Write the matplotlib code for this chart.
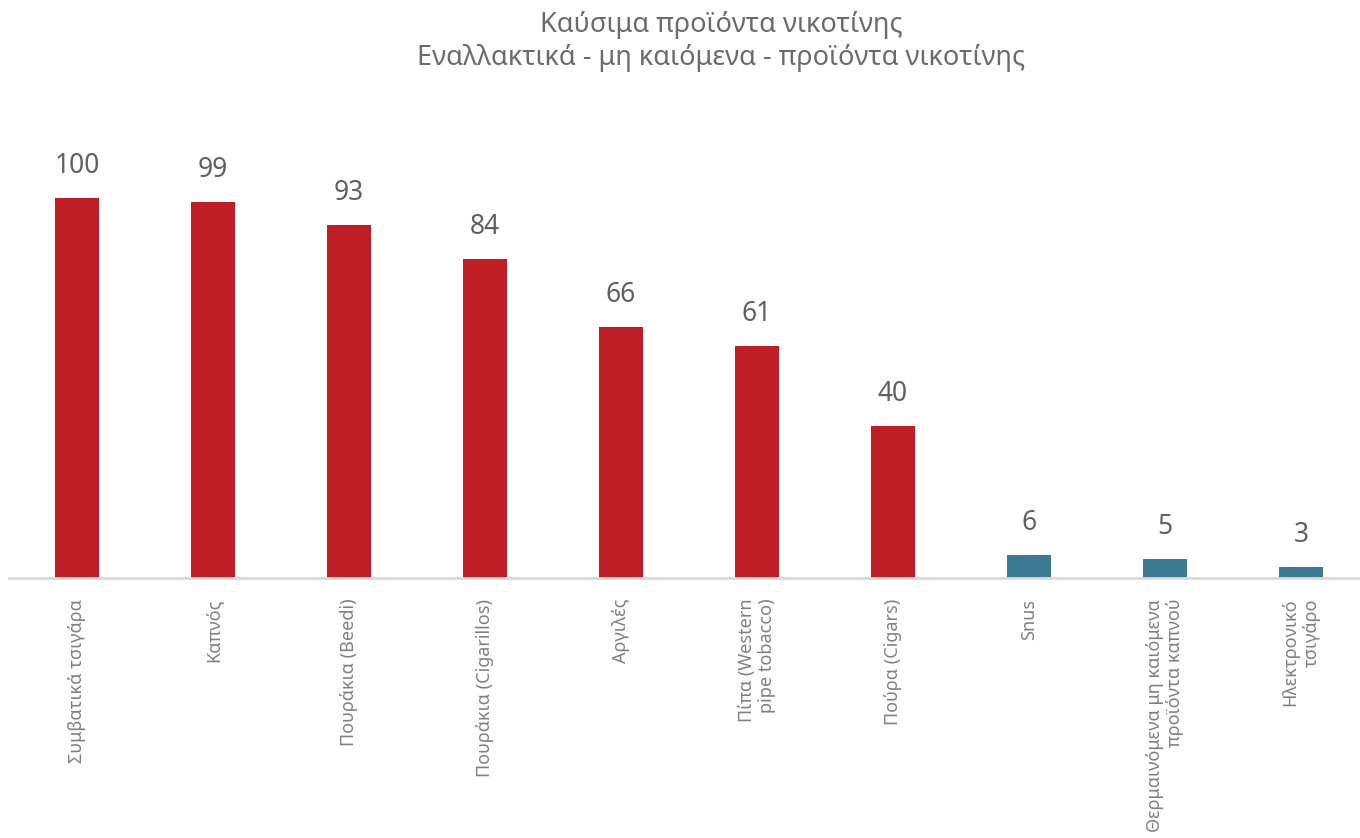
import matplotlib.pyplot as plt

plt.rcParams['font.family'] = ['Noto Sans', 'DejaVu Sans']

categories = ["Συμβατικά τσιγάρα", "Καπνός", "Πουράκια (Beedi)", "Πουράκια (Cigarillos)",
              "Αργιλές", "Πίπα (Western\npipe tobacco)", "Πούρα (Cigars)", "Snus",
              "Θερμαινόμενα μη καιόμενα\nπροϊόντα καπνού", "Ηλεκτρονικό\nτσιγάρο"]
values = [100, 99, 93, 84, 66, 61, 40, 6, 5, 3]
groups = ["burn"] * 7 + ["alt"] * 3

colors = {"burn": "#BE1E24", "alt": "#3C7A93"}

fig = plt.figure(figsize=(13.6, 8.38), dpi=100)
ax = fig.add_axes([9 / 1360, 1 - 578 / 838, 1.0, (578 - 160) / 838])

x = range(len(values))
bars = ax.bar(x, values, width=0.32, color=[colors[g] for g in groups], zorder=2)

for b, v in zip(bars, values):
    ax.annotate(str(v), (b.get_x() + b.get_width() / 2, v), xytext=(0, 13),
                textcoords="offset points", ha="center", va="bottom",
                fontsize=19, color="#606060", fontweight="light")

ax.set_xlim(-0.5, 9.5)
ax.set_ylim(0, 110)
ax.set_xticks(list(x))
ax.set_xticklabels(categories, rotation=90, fontsize=13, color="#808080",
                   fontweight="light", multialignment="right")
ax.tick_params(axis="x", length=0, pad=15)
ax.set_yticks([])
for s in ["top", "right", "left"]:
    ax.spines[s].set_visible(False)
ax.spines["bottom"].set_color("#d9d9d9")
ax.spines["bottom"].set_linewidth(2)

fig.text(721 / 1360, 1 - 25 / 838, "Καύσιμα προϊόντα νικοτίνης", ha="center", va="center",
         fontsize=19.5, color="#6b6b6b", fontweight="light")
fig.text(721 / 1360, 1 - 58 / 838, "Εναλλακτικά - μη καιόμενα - προϊόντα νικοτίνης",
         ha="center", va="center", fontsize=19.5, color="#6b6b6b", fontweight="light")

fig.savefig("out.png", dpi=100)
